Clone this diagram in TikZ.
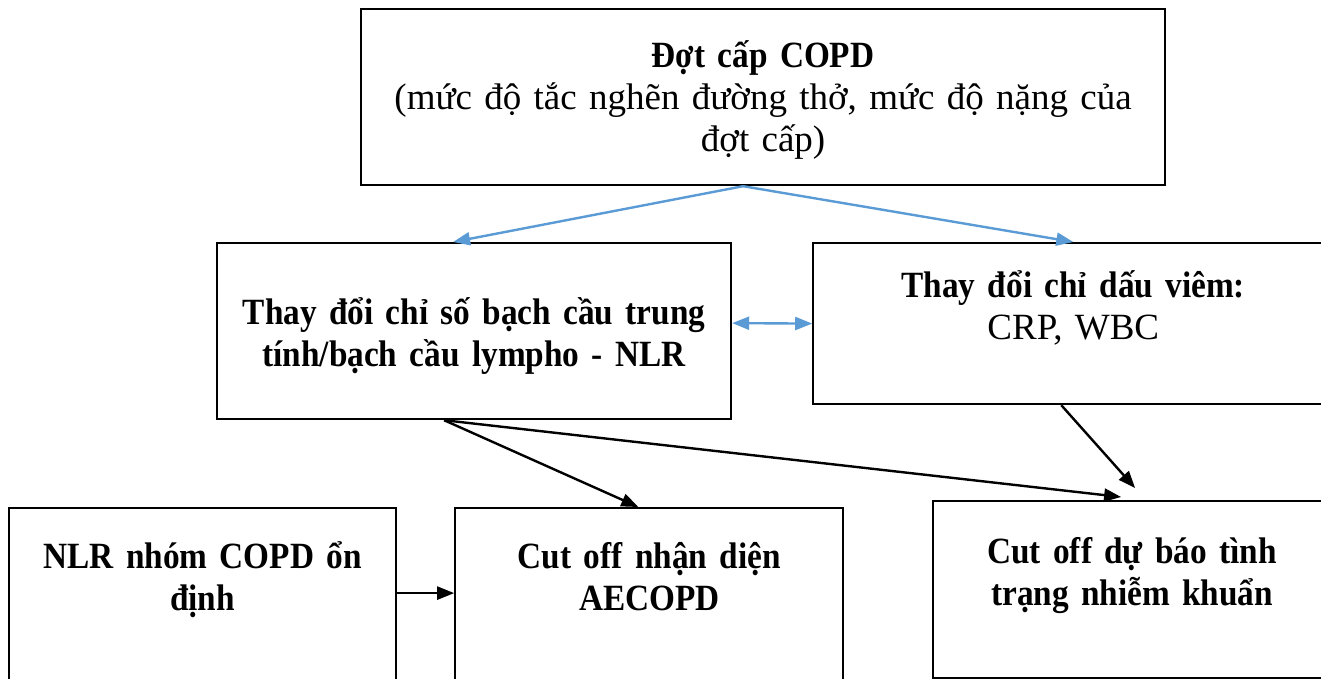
\documentclass[tikz,border=0pt]{standalone}
\usepackage{fontspec}
\setmainfont{Liberation Serif}[WordSpace=0.8, BoldFeatures={FakeStretch=0.9}]
\usetikzlibrary{positioning, arrows.meta}
\definecolor{arrowblue}{RGB}{91,155,213}

\begin{document}
\begin{tikzpicture}
        [
            x=1pt, y=-1pt,
            box/.style = {draw, black, line width=2.2pt, inner sep=0pt, align=center},
            link/.style = {->, line width=2.4pt, black},
            bluelink/.style = {->, line width=2.4pt, arrowblue},
            >={Triangle[length=17pt, width=13pt]},
            font=\fontsize{37}{42}\selectfont
        ]%
        \path[use as bounding box, clip] (0,0) rectangle (1321,679);
        \node[box, anchor=north west, text width=804pt, text height=58pt, text depth=118pt] (copd) at (360,8)
            {\textbf{Đợt cấp COPD}\\(mức độ tắc nghẽn đường thở, mức độ nặng của\\đợt cấp)};
        \node[box, anchor=north west, text width=514pt, text height=81pt, text depth=95pt] (nlr) at (216,242)
            {\textbf{Thay đổi chỉ số bạch cầu trung}\\\textbf{tính/bạch cầu lympho - NLR}};
        \node[box, right=80pt of nlr.north east, anchor=north west, text width=520pt, text height=54pt, text depth=107pt] (markers)
            {\textbf{Thay đổi chỉ dấu viêm:}\\CRP, WBC};
        \node[box, anchor=north west, text width=387pt, text height=60pt, text depth=128pt] (stable) at (8,507)
            {\textbf{NLR nhóm COPD ổn}\\\textbf{định}};
        \node[box, right=57pt of stable.north east, anchor=north west, text width=388pt, text height=60pt, text depth=128pt] (aecopd)
            {\textbf{Cut off nhận diện}\\\textbf{AECOPD}};
        \node[box, anchor=north west, text width=398pt, text height=62pt, text depth=115pt] (infect) at (932,500)
            {\textbf{Cut off dự báo tình}\\\textbf{trạng nhiễm khuẩn}};
        \draw[bluelink] ([xshift=-20pt]copd.south) -- ([xshift=-21pt]nlr.north);
        \draw[bluelink] ([xshift=-20pt]copd.south) -- (markers.north);
        \draw[bluelink, <->] ([yshift=8pt]nlr.east) -- (markers.west);
        \draw[link] ([xshift=-30pt]nlr.south) -- ([xshift=-11pt]aecopd.north);
        \draw[link] ([xshift=-30pt]nlr.south) -- ([xshift=-11pt, yshift=3pt]infect.north);
        \draw[link] ([xshift=-12pt]markers.south) -- ([xshift=3pt, yshift=12pt]infect.north);
        \draw[link] ([yshift=9pt]stable.east) -- ([yshift=9pt]aecopd.west);
        \end{tikzpicture}
\end{document}
